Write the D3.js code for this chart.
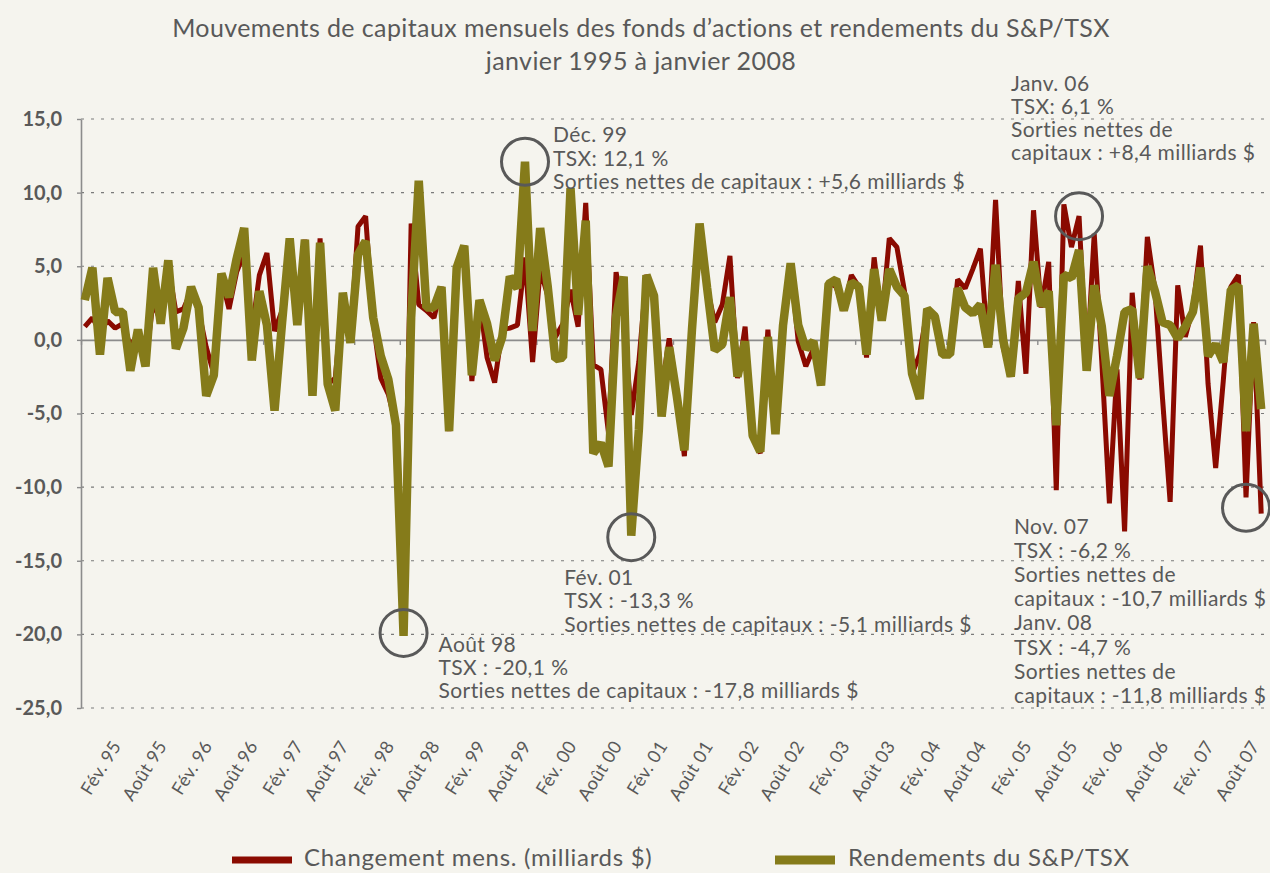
<!DOCTYPE html>
<html><head><meta charset="utf-8">
<script src="https://cdnjs.cloudflare.com/ajax/libs/d3/7.8.5/d3.min.js"></script>
<style>
html,body{margin:0;padding:0;background:#f5f4ee;}
svg{display:block;}
text{font-family:Lato,"Open Sans",sans-serif;fill:#595959;}
</style></head><body>
<svg id="c" width="1270" height="873"></svg>
<script>
// ---------- DATA ----------
const monthNames = ["Janv.","Fév.","Mars","Avr.","Mai","Juin","Juil.","Août","Sept.","Oct.","Nov.","Déc."];
// monthly categories, Feb 1995 .. Jan 2008
const categories = d3.range(156).map(k => {
  const m = (1 + k) % 12, yr = 1995 + Math.floor((1 + k) / 12);
  return monthNames[m] + " " + String(yr).slice(2);
});
const tickLabels = ["Fév. 95","Août 95","Fév. 96","Août 96","Fév. 97","Août 97","Fév. 98","Août 98",
  "Fév. 99","Août 99","Fév. 00","Août 00","Fév. 01","Août 01","Fév. 02","Août 02","Fév. 03","Août 03",
  "Fév. 04","Août 04","Fév. 05","Août 05","Fév. 06","Août 06","Fév. 07","Août 07"];
const yTicks = [15,10,5,0,-5,-10,-15,-20,-25];

// Changement mens. (milliards $)
const flows = [
 0.9, 1.5, 0.6, 1.3, 0.8, 1.1,-0.4, 0.4,-1.6, 2.6,
 1.2, 5.0, 1.9, 2.1, 3.3, 2.0,-0.5,-2.3, 4.2, 2.1,
 4.6, 5.9, 0.5, 4.4, 5.9, 0.6, 2.0, 6.8, 1.2, 6.8,
-3.8, 6.9,-3.0,-2.6, 3.0, 0.0, 7.7, 8.4, 1.2,-2.6,
-3.7,-5.8,-17.8,7.9, 2.4, 2.0, 1.5, 3.6,-6.2, 4.7,
 6.4,-2.8, 2.7,-1.2,-2.9, 0.7, 0.8, 1.0, 5.6,-1.5,
 4.8, 3.0, 0.2, 1.1, 3.4, 0.9, 9.3,-1.7,-2.0,-6.3,
 4.6, 1.6,-5.1,-1.5, 4.4, 3.2,-3.4, 0.1,-3.5,-7.9,
 0.9, 7.6, 3.5, 1.2, 2.4, 5.7,-2.6, 0.9,-6.5,-7.7,
 0.7,-6.3, 0.9, 5.0,-0.1,-1.8,-0.6,-3.0, 3.9, 3.6,
 2.0, 4.4, 3.6,-1.2, 5.6, 1.3, 6.9, 6.3, 3.3,-2.3,
-1.0, 2.1, 1.6,-0.7,-1.0, 4.1, 3.5, 4.8, 6.2,-0.5,
 9.5,-0.5,-2.5, 4.0,-2.3, 8.8, 2.2, 5.3,-10.2,9.2,
 6.3, 8.4,-2.0, 7.2,-1.5,-11.1,-2.0,-13.0,3.2,-2.7,
 7.0, 3.4,-4.0,-11.0,3.7, 0.2, 2.2, 6.4,-3.0,-8.7,
-2.8, 3.6, 4.4,-10.7,1.2,-11.8
];
// Rendements du S&P/TSX (%)
const tsx = [
 2.7, 4.9,-1.0, 4.2, 1.9, 1.9,-2.1, 0.7,-1.8, 4.9,
 1.1, 5.4,-0.6, 0.8, 3.6, 2.2,-3.8,-2.4, 4.5, 2.9,
 5.5, 7.6,-1.4, 3.3, 1.0,-4.8, 1.2, 6.9, 1.0, 6.8,
-3.8, 6.6,-3.0,-4.8, 3.2,-0.2, 5.8, 6.7, 1.5,-1.1,
-2.7,-5.8,-20.1,1.5,10.8, 2.2, 2.2, 3.6,-6.2, 4.9,
 6.4,-2.4, 2.7, 1.1,-1.4, 0.2, 4.3, 3.5,12.1, 0.6,
 7.6, 3.6,-1.3,-1.2,10.3, 1.7, 8.1,-7.7,-7.0,-8.6,
 1.6, 4.3,-13.3,-6.1,4.4, 3.0,-5.2,-0.5,-3.8,-7.5,
 0.7, 7.9, 3.5,-0.7,-0.3, 2.9,-2.5,-0.1,-6.5,-7.6,
 0.2,-6.4, 1.0, 5.2, 1.0,-0.6,-0.1,-3.1, 3.8, 4.1,
 2.0, 3.9, 3.6,-1.0, 4.8, 1.3, 4.8, 3.6, 3.0,-2.3,
-4.0, 2.1, 1.6,-1.0,-1.0, 3.5, 2.2, 1.8, 2.4,-0.5,
 5.1, 0.0,-2.5, 2.8, 3.2, 5.3, 2.3, 3.3,-5.8, 4.4,
 4.2, 6.1,-2.1, 3.7, 0.9,-3.8,-1.1, 1.9, 2.1,-2.6,
 5.0, 3.3, 1.2, 1.0, 0.1, 0.9, 1.9, 4.9,-1.1,-0.3,
-1.5, 3.4, 3.7,-6.2, 1.1,-4.7
];
const seriesNames = ["Changement mens. (milliards $)", "Rendements du S&P/TSX"];
const seriesColors = ["#8a0a00", "#857b1a"];

// annotations: circled point (category, value), text block offset from the circle
const annotations = [
 {cat:"Août 98", val:-19.9, tx:35, ty:12, lh:23,
  lines:["Août 98","TSX : -20,1 %","Sorties nettes de capitaux : -17,8 milliards $"]},
 {cat:"Déc. 99", val:12.1, tx:28, ty:-27, lh:23.5,
  lines:["Déc. 99","TSX: 12,1 %","Sorties nettes de capitaux : +5,6 milliards $"]},
 {cat:"Fév. 01", val:-13.4, tx:-67, ty:40, lh:23.5,
  lines:["Fév. 01","TSX : -13,3 %","Sorties nettes de capitaux : -5,1 milliards $"]},
 {cat:"Janv. 06", val:8.4, tx:-68, ty:-133, lh:23.3,
  lines:["Janv. 06","TSX: 6,1 %","Sorties nettes de","capitaux : +8,4 milliards $"]},
 {cat:"Nov. 07", val:-11.4, tx:-232, ty:19, lh:24.1,
  lines:["Nov. 07","TSX : -6,2 %","Sorties nettes de","capitaux : -10,7 milliards $",
         "Janv. 08","TSX : -4,7 %","Sorties nettes de","capitaux : -11,8 milliards $"]}
];

// ---------- CHART ----------
const svg = d3.select("#c");
svg.append("rect").attr("width",1270).attr("height",873).attr("fill","#f5f4ee");

const L = 81, R = 1265, T = 119, B = 708;
const x = d3.scaleBand().domain(categories).range([L, R]);
const xc = c => x(c) + x.bandwidth() / 2;
const xb = d3.scaleLinear().domain([0, categories.length]).range([L, R]);
const y = d3.scaleLinear().domain([-25, 15]).range([B, T]);
const fmt = d => (d < 0 ? "-" : "") + Math.abs(d).toFixed(1).replace(".", ",");

// title
const title = svg.append("g").attr("font-size", 25).attr("letter-spacing", 0.4);
title.append("text").attr("x", 641).attr("y", 37).attr("text-anchor","middle")
  .text("Mouvements de capitaux mensuels des fonds d’actions et rendements du S&P/TSX");
title.append("text").attr("x", 641).attr("y", 70).attr("text-anchor","middle")
  .text("janvier 1995 à janvier 2008");

// gridlines
svg.append("g").selectAll("line").data(yTicks.filter(v => v !== 0)).join("line")
  .attr("x1", L).attr("x2", R).attr("y1", d => y(d)).attr("y2", d => y(d))
  .attr("stroke", "#7a7a7a").attr("stroke-width", 1.2).attr("stroke-dasharray", "3,7");

// y axis
const yAxis = svg.append("g").attr("transform", `translate(${L},0)`)
  .call(d3.axisLeft(y).tickValues(yTicks).tickFormat(fmt).tickSize(4).tickSizeOuter(0).tickPadding(15));
yAxis.select(".domain").attr("stroke", "#8c8c8c").attr("stroke-width", 1.6);
yAxis.selectAll(".tick line").attr("stroke", "#8c8c8c").attr("stroke-width", 1.4);
yAxis.selectAll(".tick text").attr("font-size", 20).attr("font-weight", "bold")
  .attr("font-family", "Lato, sans-serif").attr("fill", "#595959");

// x axis (zero line with ticks every 6 months)
const xAxis = svg.append("g").attr("transform", `translate(0,${y(0)})`)
  .call(d3.axisBottom(xb).tickValues(d3.range(0, categories.length + 1, 6)).tickFormat("").tickSize(5).tickSizeOuter(0));
xAxis.select(".domain").attr("stroke", "#8c8c8c").attr("stroke-width", 1.6);
xAxis.selectAll(".tick line").attr("stroke", "#8c8c8c").attr("stroke-width", 1.4);

// x labels (rotated)
svg.append("g").selectAll("text").data(tickLabels).join("text")
  .attr("transform", d => `translate(${xc(d) + 37},746) rotate(-58)`)
  .attr("text-anchor", "end").attr("font-size", 18).attr("letter-spacing", 0.3).text(d => d);

// lines
const line = d3.line().x((d, i) => xc(categories[i])).y(d => y(d));
svg.append("path").datum(flows).attr("d", line).attr("fill", "none")
  .attr("stroke", seriesColors[0]).attr("stroke-width", 5).attr("stroke-linejoin", "bevel");
svg.append("path").datum(tsx).attr("d", line).attr("fill", "none")
  .attr("stroke", seriesColors[1]).attr("stroke-width", 8.5).attr("stroke-linejoin", "bevel");

// annotations
const ag = svg.append("g");
annotations.forEach(a => {
  const cx = xc(a.cat), cy = y(a.val);
  ag.append("circle").attr("cx", cx).attr("cy", cy).attr("r", 23.5)
    .attr("fill", "none").attr("stroke", "#595959").attr("stroke-width", 3);
  ag.append("g").selectAll("text").data(a.lines).join("text")
    .attr("x", cx + a.tx).attr("y", (d, i) => cy + a.ty + i * a.lh)
    .attr("dy", "0.35em").attr("font-size", 21).attr("letter-spacing", 0.4).text(d => d);
});

// legend
const lg = svg.append("g");
[[232, 304], [775, 848]].forEach((p, i) => {
  lg.append("line").attr("x1", p[0]).attr("x2", p[0] + 60).attr("y1", 860).attr("y2", 860)
    .attr("stroke", seriesColors[i]).attr("stroke-width", i ? 9 : 7);
  lg.append("text").attr("x", p[1]).attr("y", 858).attr("dy", "0.35em")
    .attr("font-size", 24).attr("letter-spacing", 0.7).text(seriesNames[i]);
});
</script>
</body></html>
